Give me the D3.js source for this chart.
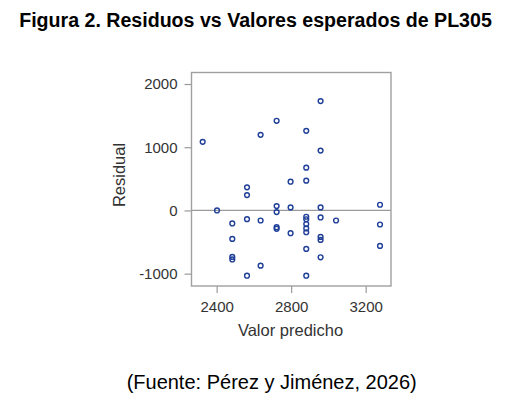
<!DOCTYPE html>
<html>
<head>
<meta charset="utf-8">
<script src="https://cdn.jsdelivr.net/npm/d3@7"></script>
<style>
  body { margin: 0; background: #fff; }
  text { font-family: "Liberation Sans", Arial, sans-serif; }
</style>
</head>
<body>
<div id="chart"></div>
<script>
// predicted values and residuals
const predicted = [2325, 2402, 2484, 2484, 2484, 2484, 2563, 2563, 2563, 2563,
    2636, 2636, 2636, 2722, 2722, 2722, 2722, 2722, 2797, 2797, 2797,
    2881, 2881, 2881, 2881, 2881, 2881, 2881, 2881, 2881, 2881,
    2958, 2958, 2958, 2958, 2958, 2958, 2958, 3041, 3277, 3277, 3277];
const residual = [1085, 0, -206, -450, -735, -775, 365, 243, -138, -1032,
    1196, -159, -873, 1418, 69, -26, -265, -290, 455, 48, -360,
    1259, 677, 471, -100, -140, -215, -285, -345, -608, -1032,
    1730, 947, 48, -111, -418, -466, -741, -159, 90, -222, -561];
const xTicks = [2400, 2800, 3200];
const yTicks = [-1000, 0, 1000, 2000];
const xDomain = [2265, 3336];
const yDomain = [-1195, 2182];

const width = 505, height = 401;
const frame = {left: 191.5, right: 391, top: 72.5, bottom: 286};

const svg = d3.select('#chart').append('svg')
    .attr('width', width)
    .attr('height', height);

const x = d3.scaleLinear().domain(xDomain).range([frame.left, frame.right]);
const y = d3.scaleLinear().domain(yDomain).range([frame.bottom, frame.top]);

// title
svg.append('text')
    .attr('x', 255.5)
    .attr('y', 27)
    .attr('text-anchor', 'middle')
    .attr('font-size', '19.6px')
    .attr('font-weight', 'bold')
    .attr('fill', '#000')
    .text('Figura 2. Residuos vs Valores esperados de PL305');

// zero reference line
svg.append('line')
    .attr('x1', frame.left).attr('x2', frame.right)
    .attr('y1', y(0)).attr('y2', y(0))
    .attr('stroke', '#9a9a9a')
    .attr('stroke-width', 1.2);

// axes
const plain = function(d) { return String(d); };
const xAxis = svg.append('g')
    .attr('transform', 'translate(0,' + frame.bottom + ')')
    .call(d3.axisBottom(x).tickValues(xTicks).tickFormat(plain).tickSize(7).tickPadding(8).tickSizeOuter(0));
const yAxis = svg.append('g')
    .attr('transform', 'translate(' + frame.left + ',0)')
    .call(d3.axisLeft(y).tickValues(yTicks).tickFormat(plain).tickSize(7).tickPadding(7).tickSizeOuter(0));

[xAxis, yAxis].forEach(function(g) {
    g.select('.domain').remove();
    g.selectAll('line').attr('stroke', '#9a9a9a').attr('stroke-width', 1.2);
    g.selectAll('text')
        .attr('font-size', '15px')
        .attr('fill', '#333')
        .style('font-family', '"Liberation Sans", Arial, sans-serif');
});

// frame
svg.append('rect')
    .attr('x', frame.left)
    .attr('y', frame.top)
    .attr('width', frame.right - frame.left)
    .attr('height', frame.bottom - frame.top)
    .attr('fill', 'none')
    .attr('stroke', '#a0a0a0')
    .attr('stroke-width', 1.4);

// points
svg.append('g').selectAll('circle')
    .data(predicted.map(function(d, i) { return {x: d, y: residual[i]}; }))
    .enter()
    .append('circle')
    .attr('cx', function(d) { return x(d.x); })
    .attr('cy', function(d) { return y(d.y); })
    .attr('r', 2.4)
    .attr('fill', 'none')
    .attr('stroke', '#1f3f98')
    .attr('stroke-width', 1.4);

// axis labels
svg.append('text')
    .attr('x', 290.5)
    .attr('y', 336)
    .attr('text-anchor', 'middle')
    .attr('font-size', '16.5px')
    .attr('fill', '#333')
    .text('Valor predicho');

svg.append('text')
    .attr('transform', 'translate(125,175) rotate(-90)')
    .attr('text-anchor', 'middle')
    .attr('font-size', '16.5px')
    .attr('fill', '#333')
    .text('Residual');

// source
svg.append('text')
    .attr('x', 271.7)
    .attr('y', 389)
    .attr('text-anchor', 'middle')
    .attr('font-size', '20px')
    .attr('fill', '#000')
    .text('(Fuente: Pérez y Jiménez, 2026)');
</script>
</body>
</html>
